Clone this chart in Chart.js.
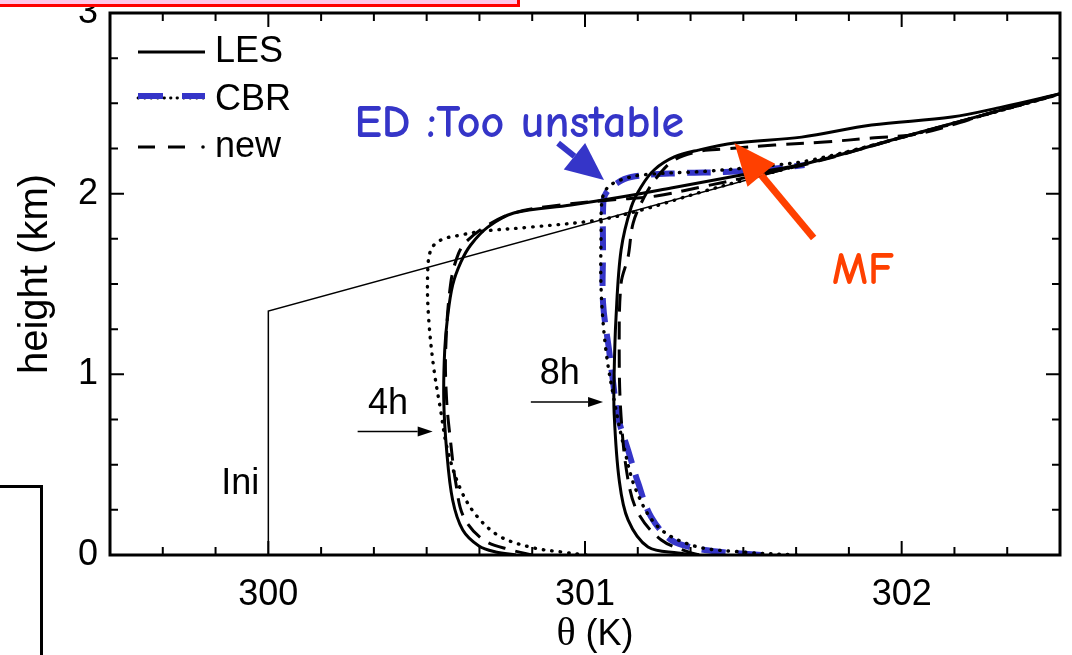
<!DOCTYPE html>
<html>
<head>
<meta charset="utf-8">
<script src="https://cdn.jsdelivr.net/npm/chart.js@4.4.1/dist/chart.umd.min.js"></script>
<style>
    html, body { margin: 0; padding: 0; background: #fff; }
    #wrap { position: relative; width: 1072px; height: 655px; overflow: hidden; }
    #profileChart { position: absolute; left: 0; top: 0; }
    #redBox { position: absolute; left: -4px; top: -12px; width: 518px; height: 13px; border: 3px solid #ff0000; background: #ffc8e8; }
    #sideBox { position: absolute; left: -4px; top: 485px; width: 41px; height: 200px; border: 3px solid #000; }
</style>
</head>
<body>
<div id="wrap">
    <canvas id="profileChart" width="1072" height="655"></canvas>
    <div id="redBox"></div>
    <div id="sideBox"></div>
</div>
<script>
// theta profiles (K) vs height (km)

const xTicks = [300, 301, 302];
const yTicks = [0, 1, 2, 3];

// initial profile
const iniTheta  = [300, 300, 302.5];
const iniHeight = [0, 1.35, 2.551];

// 4h
const les4Theta  = [300.782, 300.718, 300.665, 300.614, 300.582, 300.563, 300.554, 300.557, 300.566, 300.582, 300.608, 300.639, 300.693, 300.775, 300.956, 301.114, 301.272, 301.494, 301.706, 302.0, 302.25, 302.5];
const les4Height = [0.0, 0.017, 0.050, 0.138, 0.304, 0.581, 0.858, 1.134, 1.317, 1.494, 1.621, 1.716, 1.815, 1.893, 1.937, 1.981, 2.031, 2.103, 2.170, 2.312, 2.432, 2.553];

const new4Theta  = [300.835, 300.766, 300.680, 300.617, 300.592, 300.576, 300.563, 300.560, 300.576, 300.601, 300.630, 300.693, 300.775, 300.892, 301.082, 301.225, 301.367, 301.557, 301.715, 302.0, 302.25, 302.5];
const new4Height = [0.0, 0.028, 0.083, 0.210, 0.398, 0.620, 0.858, 1.134, 1.505, 1.671, 1.743, 1.826, 1.893, 1.931, 1.965, 1.987, 2.037, 2.108, 2.170, 2.311, 2.431, 2.551];

const cbr4Theta  = [301.003, 300.924, 300.839, 300.734, 300.661, 300.608, 300.566, 300.544, 300.522, 300.506, 300.503, 300.513, 300.544, 300.608, 300.680, 300.829, 301.041, 301.177, 301.367, 301.525, 302.0, 302.5];
const cbr4Height = [0.0, 0.017, 0.039, 0.100, 0.210, 0.360, 0.581, 0.802, 1.040, 1.317, 1.550, 1.688, 1.743, 1.771, 1.793, 1.815, 1.854, 1.909, 2.009, 2.086, 2.311, 2.551];

// 8h
const les8Theta  = [301.36, 301.294, 301.199, 301.136, 301.108, 301.092, 301.092, 301.098, 301.114, 301.146, 301.177, 301.218, 301.282, 301.358, 301.472, 301.684, 301.905, 302.158, 302.316, 302.5];
const les8Height = [0.0, 0.011, 0.044, 0.194, 0.415, 0.786, 1.0, 1.317, 1.688, 1.926, 2.037, 2.131, 2.203, 2.241, 2.280, 2.313, 2.380, 2.424, 2.479, 2.553];

const new8Theta  = [301.36, 301.326, 301.241, 301.168, 301.136, 301.114, 301.108, 301.114, 301.136, 301.152, 301.187, 301.225, 301.282, 301.367, 301.440, 301.598, 301.756, 301.905, 302.063, 302.316, 302.5];
const new8Height = [0.0, 0.017, 0.083, 0.232, 0.415, 0.764, 1.134, 1.505, 1.649, 1.837, 1.981, 2.086, 2.186, 2.236, 2.247, 2.269, 2.286, 2.308, 2.335, 2.466, 2.553];

const cbr8Theta  = [301.668, 301.494, 301.345, 301.231, 301.161, 301.123, 301.092, 301.066, 301.051, 301.051, 301.054, 301.070, 301.104, 301.177, 301.389, 301.598, 301.715, 302.0, 302.5];
const cbr8Height = [0.0, 0.017, 0.050, 0.155, 0.360, 0.598, 0.858, 1.134, 1.467, 1.799, 1.965, 2.031, 2.070, 2.103, 2.125, 2.158, 2.186, 2.311, 2.551];

// CBR eddy-diffusivity part, 8h (blue)
const ed8Theta  = [301.557, 301.430, 301.345, 301.272, 301.209, 301.168, 301.136, 301.104, 301.089, 301.076, 301.057, 301.057, 301.057, 301.063, 301.092, 301.146, 301.304, 301.440, 301.579, 301.693];
const ed8Height = [0.0, 0.017, 0.039, 0.083, 0.210, 0.398, 0.581, 0.764, 0.952, 1.134, 1.395, 1.688, 1.909, 1.992, 2.048, 2.092, 2.114, 2.120, 2.136, 2.158];

const BLUE = '#3535c8';
const RED = '#ff4000';
const SANS = '"Liberation Sans", Arial, sans-serif';
const COMIC = '"Comic Sans MS", "Comic Neue", "DejaVu Sans", sans-serif';

function pts(xs, ys) {
    return xs.map((v, i) => ({ x: v, y: ys[i] }));
}

function lesSet(xs, ys) {
    return { data: pts(xs, ys), borderColor: '#000', borderWidth: 3, tension: 0.35, order: 1 };
}
function newSet(xs, ys) {
    return { data: pts(xs, ys), borderColor: '#000', borderWidth: 3, borderDash: [18, 10], tension: 0.35, order: 2 };
}
function cbrSet(xs, ys) {
    return { data: pts(xs, ys), borderColor: '#000', borderWidth: 3.4, borderDash: [0.5, 8], borderCapStyle: 'round', tension: 0.35, order: 3 };
}

function arrow(ctx, x1, y1, x2, y2, w, headLen, headW, color) {
    const ang = Math.atan2(y2 - y1, x2 - x1);
    const bx = x2 - headLen * Math.cos(ang), by = y2 - headLen * Math.sin(ang);
    ctx.strokeStyle = color;
    ctx.fillStyle = color;
    ctx.lineWidth = w;
    ctx.beginPath();
    ctx.moveTo(x1, y1);
    ctx.lineTo(bx, by);
    ctx.stroke();
    ctx.beginPath();
    ctx.moveTo(x2, y2);
    ctx.lineTo(bx + headW / 2 * Math.sin(ang), by - headW / 2 * Math.cos(ang));
    ctx.lineTo(bx - headW / 2 * Math.sin(ang), by + headW / 2 * Math.cos(ang));
    ctx.closePath();
    ctx.fill();
}

const decorations = {
    id: 'decorations',
    afterDraw(chart) {
        const { ctx, chartArea: a, scales: { x, y } } = chart;
        const X = v => x.getPixelForValue(v);
        const Y = v => y.getPixelForValue(v);
        ctx.save();

        // inward ticks on all four sides
        ctx.strokeStyle = '#000';
        ctx.lineWidth = 2;
        ctx.beginPath();
        for (let i = 0; i <= 18; i++) {
            const v = 299.5 + i / 6;
            const px = X(v);
            const len = Math.abs(v - Math.round(v)) < 1e-6 ? 14 : 8;
            ctx.moveTo(px, a.bottom); ctx.lineTo(px, a.bottom - len);
            ctx.moveTo(px, a.top); ctx.lineTo(px, a.top + len);
        }
        for (let i = 0; i <= 12; i++) {
            const v = i * 0.25;
            const py = Y(v);
            const len = i % 4 === 0 ? 14 : 8;
            ctx.moveTo(a.left, py); ctx.lineTo(a.left + len, py);
            ctx.moveTo(a.right, py); ctx.lineTo(a.right - len, py);
        }
        ctx.stroke();
        ctx.lineWidth = 3;
        ctx.strokeRect(a.left, a.top, a.right - a.left, a.bottom - a.top);

        // axis titles
        ctx.fillStyle = '#000';
        ctx.font = '40px ' + SANS;
        ctx.textAlign = 'center';
        ctx.textBaseline = 'middle';
        ctx.save();
        ctx.translate(36, 274);
        ctx.rotate(-Math.PI / 2);
        ctx.fillText('height (km)', 0, 0);
        ctx.restore();

        ctx.textBaseline = 'alphabetic';
        ctx.textAlign = 'left';
        ctx.font = '40px "Liberation Serif", "Times New Roman", serif';
        const thetaW = ctx.measureText('\u03b8').width;
        ctx.font = '36px ' + SANS;
        const restW = ctx.measureText(' (K)').width;
        const tx = (a.left + a.right) / 2 + 10 - (thetaW + restW) / 2;
        ctx.font = '40px "Liberation Serif", "Times New Roman", serif';
        ctx.fillText('\u03b8', tx, 645);
        ctx.font = '36px ' + SANS;
        ctx.fillText(' (K)', tx + thetaW, 645);

        // legend
        const lx0 = a.left + 28, lx1 = a.left + 95;
        ctx.lineWidth = 3;
        ctx.strokeStyle = '#000';
        ctx.beginPath(); ctx.moveTo(lx0, 52); ctx.lineTo(lx1, 52); ctx.stroke();

        ctx.setLineDash([0.5, 6]);
        ctx.lineCap = 'round';
        ctx.lineWidth = 2.8;
        ctx.beginPath(); ctx.moveTo(lx0, 98); ctx.lineTo(lx1, 98); ctx.stroke();
        ctx.setLineDash([]);
        ctx.lineCap = 'butt';
        ctx.strokeStyle = BLUE;
        ctx.lineWidth = 6;
        ctx.beginPath();
        ctx.moveTo(lx0, 96); ctx.lineTo(lx0 + 25, 96);
        ctx.moveTo(lx1 - 23, 96); ctx.lineTo(lx1, 96);
        ctx.stroke();

        ctx.strokeStyle = '#000';
        ctx.lineWidth = 3;
        ctx.beginPath();
        ctx.moveTo(lx0, 147); ctx.lineTo(lx0 + 17, 147);
        ctx.moveTo(lx0 + 30, 147); ctx.lineTo(lx0 + 47, 147);
        ctx.stroke();
        ctx.fillStyle = '#000';
        ctx.beginPath(); ctx.arc(lx1 - 2, 147, 1.8, 0, Math.PI * 2); ctx.fill();

        ctx.font = '36px ' + SANS;
        ctx.fillText('LES', a.left + 105, 62);
        ctx.fillText('CBR', a.left + 105, 110);
        ctx.fillText('new', a.left + 105, 157);

        // time labels and arrows
        ctx.fillText('4h', X(300.315), Y(0.78));
        arrow(ctx, X(300.282), Y(0.684), X(300.519), Y(0.684), 1.5, 15, 10, '#000');
        ctx.fillText('8h', X(300.857), Y(0.946));
        arrow(ctx, X(300.829), Y(0.847), X(301.057), Y(0.847), 1.5, 15, 10, '#000');
        ctx.fillText('Ini', X(299.851), Y(0.338));

        // annotations
        ctx.font = 'bold 46px ' + COMIC;
        ctx.fillStyle = BLUE;
        ctx.fillText('ED :Too unstable', X(300.272), Y(2.313), X(301.329) - X(300.272));
        arrow(ctx, X(300.915), Y(2.280), X(301.060), Y(2.075), 6, 38, 34, BLUE);

        ctx.fillStyle = RED;
        ctx.fillText('MF', X(301.78), Y(1.50), X(301.975) - X(301.78));
        arrow(ctx, X(301.722), Y(1.754), X(301.472), Y(2.280), 7, 42, 36, RED);

        ctx.restore();
    }
};

const ctx = document.getElementById('profileChart').getContext('2d');
const profileChart = new Chart(ctx, {
    type: 'scatter',
    data: {
        datasets: [
            { data: pts(iniTheta, iniHeight), borderColor: '#000', borderWidth: 1.5, tension: 0, order: 4 },
            { data: pts(ed8Theta, ed8Height), borderColor: BLUE, borderWidth: 6, borderDash: [24, 12], tension: 0.35, order: 10 },
            cbrSet(cbr4Theta, cbr4Height),
            cbrSet(cbr8Theta, cbr8Height),
            newSet(new4Theta, new4Height),
            newSet(new8Theta, new8Height),
            lesSet(les4Theta, les4Height),
            lesSet(les8Theta, les8Height)
        ].map(d => Object.assign({ showLine: true, pointRadius: 0, fill: false }, d))
    },
    options: {
        responsive: false,
        animation: false,
        devicePixelRatio: 1,
        layout: { padding: { top: 13, right: 12, left: 0, bottom: 0 } },
        plugins: {
            legend: { display: false },
            tooltip: { enabled: false }
        },
        scales: {
            x: {
                type: 'linear',
                min: 299.5,
                max: 302.5,
                grid: { display: false, drawTicks: false },
                border: { display: false },
                afterBuildTicks: s => { s.ticks = xTicks.map(v => ({ value: v })); },
                afterFit: s => { s.height = 100; s.paddingLeft = 0; s.paddingRight = 0; },
                ticks: {
                    color: '#000',
                    font: { family: SANS, size: 36 },
                    padding: 18,
                    maxRotation: 0,
                    autoSkip: false,
                    callback: v => String(v)
                }
            },
            y: {
                type: 'linear',
                min: 0,
                max: 3,
                grid: { display: false, drawTicks: false },
                border: { display: false },
                afterBuildTicks: s => { s.ticks = yTicks.map(v => ({ value: v })); },
                afterFit: s => { s.width = 110; s.paddingTop = 0; s.paddingBottom = 0; },
                ticks: {
                    color: '#000',
                    font: { family: SANS, size: 36 },
                    padding: 12,
                    autoSkip: false,
                    callback: v => String(v)
                }
            }
        }
    },
    plugins: [decorations]
});
</script>
</body>
</html>
